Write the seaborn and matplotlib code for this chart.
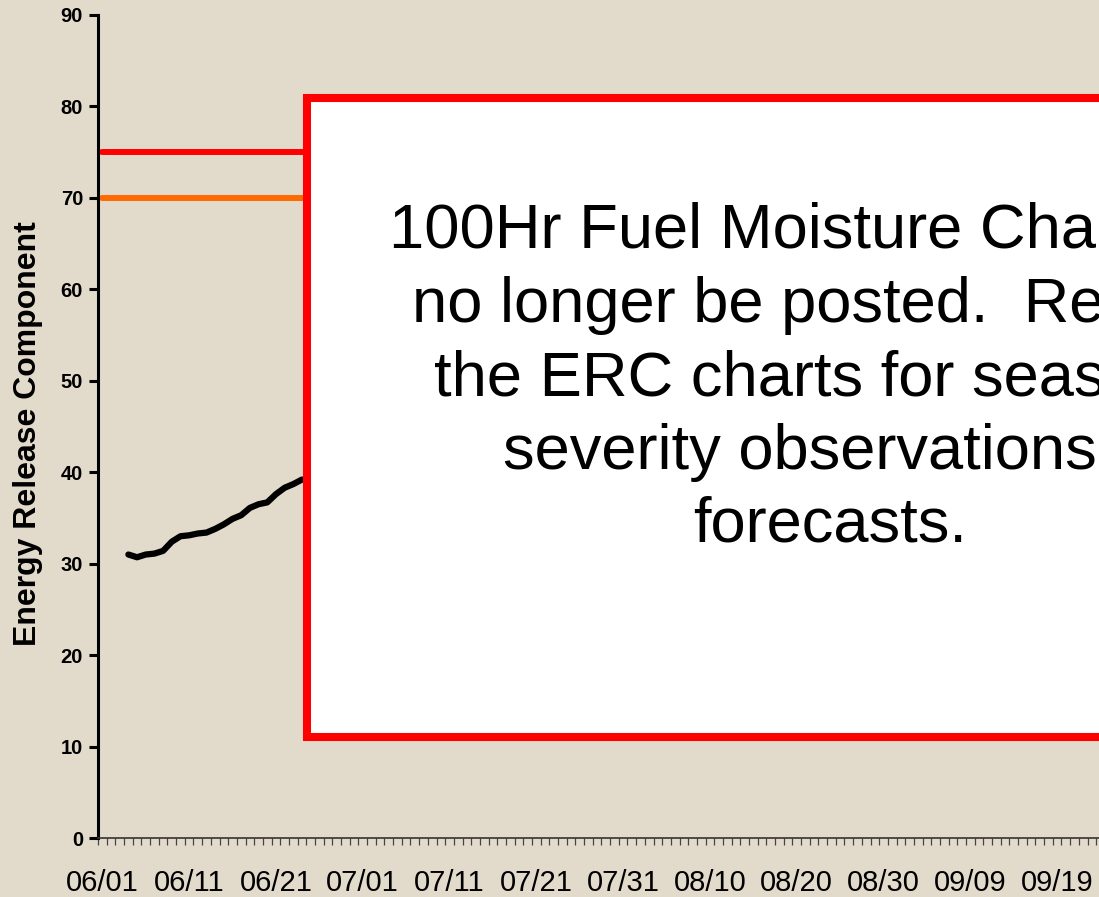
import numpy as np
import pandas as pd
import matplotlib
matplotlib.use("Agg")
import matplotlib.pyplot as plt
import matplotlib.patches as mpatches
from matplotlib.ticker import FixedLocator
import seaborn as sns

# ---------------- data ----------------
season_start = "2000-06-01"
erc_dates = ["06/04", "06/05", "06/06", "06/07", "06/08", "06/09", "06/10",
             "06/11", "06/12", "06/13", "06/14", "06/15", "06/16", "06/17",
             "06/18", "06/19", "06/20", "06/21", "06/22", "06/23", "06/24"]
erc_values = [31.0, 30.7, 31.0, 31.1, 31.4, 32.4, 33.0,
              33.1, 33.3, 33.4, 33.8, 34.3, 34.9, 35.3,
              36.1, 36.5, 36.7, 37.6, 38.3, 38.7, 39.2]
threshold_red = 75
threshold_orange = 70
tick_labels = ["06/01", "06/11", "06/21", "07/01", "07/11", "07/21",
               "07/31", "08/10", "08/20", "08/30", "09/09", "09/19"]
y_ticks = [0, 10, 20, 30, 40, 50, 60, 70, 80, 90]
season_end = "09/30"
notice_lines = ["100Hr Fuel Moisture Charts will",
                "no longer be posted.  Refer to",
                "the ERC charts for seasonal",
                "severity observations &",
                "forecasts."]

# ---------------- style ----------------
sns.set_theme(style="white")
plt.rcParams["font.family"] = ["Liberation Sans", "DejaVu Sans"]

W, H = 1099, 897
fig = plt.figure(figsize=(W / 100, H / 100), dpi=100)
bg = "#E2DACB"
fig.patch.set_facecolor(bg)

start = pd.Timestamp(season_start)
def day_index(mmdd):
    return (pd.Timestamp(f"2000-{mmdd.replace('/', '-')}") - start).days

x_erc = [day_index(d) for d in erc_dates]
end_day = day_index(season_end)
tick_pos = [day_index(t) for t in tick_labels]

px_per_day = 8.68
ax_left_px, ax_bottom_px, ax_top_px = 98, 838, 15
xmin, xmax = -0.5, end_day + 0.5
ax_w_px = (xmax - xmin) * px_per_day
ax = fig.add_axes([ax_left_px / W, 1 - ax_bottom_px / H,
                   ax_w_px / W, (ax_bottom_px - ax_top_px) / H])
ax.set_facecolor("none")

df_thr = pd.DataFrame({
    "day": [0, end_day, 0, end_day],
    "value": [threshold_red, threshold_red, threshold_orange, threshold_orange],
    "level": ["red", "red", "orange", "orange"],
})
sns.lineplot(data=df_thr, x="day", y="value", hue="level",
             palette={"red": "#FF0000", "orange": "#FF6A00"},
             linewidth=4.3, ax=ax, legend=False)

df_erc = pd.DataFrame({"day": x_erc, "erc": erc_values})
sns.lineplot(data=df_erc, x="day", y="erc", color="black", linewidth=4.5,
             ax=ax, legend=False, solid_capstyle="round", solid_joinstyle="round")

ax.set_xlim(xmin, xmax)
ax.set_ylim(0, 90)
ax.set_xlabel("")
ax.set_ylabel("")

for s in ["top", "right"]:
    ax.spines[s].set_visible(False)
ax.spines["left"].set_linewidth(2.2)
ax.spines["left"].set_color("black")
ax.spines["bottom"].set_linewidth(1.2)
ax.spines["bottom"].set_color("#333333")

ax.yaxis.set_major_locator(FixedLocator(y_ticks))
ax.tick_params(axis="y", which="major", direction="out", length=6.5, width=2.2,
               color="black", pad=4.3, labelsize=14.5, labelcolor="black", left=True)
for lab in ax.get_yticklabels():
    lab.set_fontweight("bold")

ax.xaxis.set_major_locator(FixedLocator(tick_pos))
ax.set_xticklabels(tick_labels)
ax.xaxis.set_minor_locator(FixedLocator(np.arange(xmin, xmax + 0.01, 1.0)))
ax.tick_params(axis="x", which="major", length=0, pad=22.5, labelsize=21,
               labelcolor="black", bottom=True)
ax.tick_params(axis="x", which="minor", direction="out", length=5, width=0.9,
               color="#444444", bottom=True)

fig.text(28 / W, 1 - 433.5 / H, "Energy Release Component", rotation=90,
         ha="center", va="center", fontsize=23, fontweight="bold", color="black")

# notice box overlay
box_l, box_t, box_r, box_b = 307, 98.5, 1353, 737
rect = mpatches.Rectangle((box_l / W, 1 - box_b / H), (box_r - box_l) / W,
                          (box_b - box_t) / H, transform=fig.transFigure,
                          facecolor="white", edgecolor="#FF0000", linewidth=5.8,
                          zorder=10)
fig.patches.append(rect)

cx = 830
for i, line in enumerate(notice_lines):
    fig.text(cx / W, 1 - (248 + i * 73.5) / H, line, ha="center", va="baseline",
             fontsize=45.5, color="black", zorder=11)

fig.savefig("out.png", dpi=100, facecolor=bg)
